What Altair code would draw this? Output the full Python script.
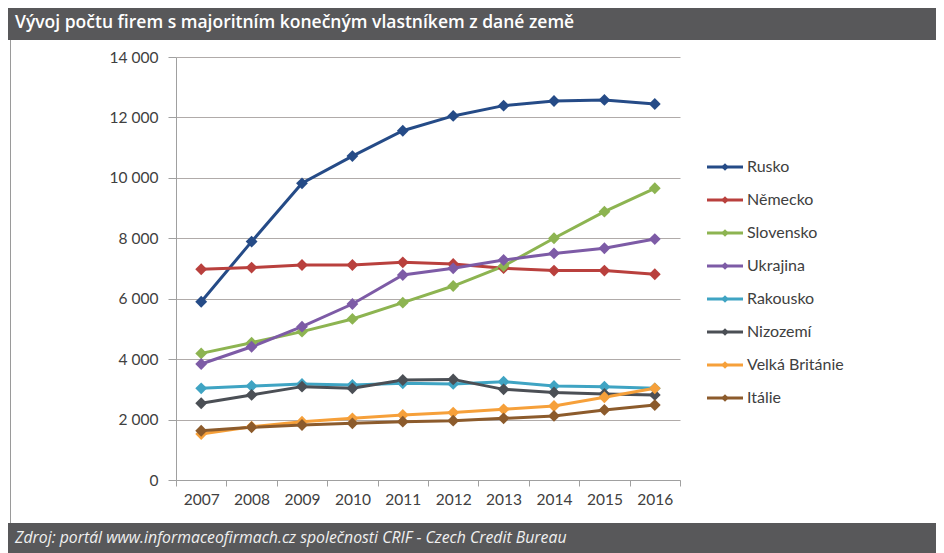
import altair as alt
import pandas as pd

years = [2007, 2008, 2009, 2010, 2011, 2012, 2013, 2014, 2015, 2016]
countries = ["Rusko", "Německo", "Slovensko", "Ukrajina", "Rakousko",
             "Nizozemí", "Velká Británie", "Itálie"]
colors = ["#254b87", "#b9403d", "#8db451", "#7d5ba6", "#3fa4c3",
          "#4b4f55", "#f6a03a", "#8c5b2c"]

rusko = [5900, 7890, 9820, 10720, 11560, 12050, 12390, 12545, 12580, 12445]
nemecko = [6975, 7030, 7115, 7115, 7205, 7150, 7010, 6930, 6930, 6810]
slovensko = [4190, 4545, 4910, 5330, 5870, 6420, 7080, 8000, 8880, 9655]
ukrajina = [3840, 4410, 5075, 5825, 6785, 7005, 7280, 7500, 7670, 7975]
rakousko = [3035, 3110, 3180, 3145, 3200, 3180, 3255, 3110, 3090, 3035]
nizozemi = [2540, 2815, 3090, 3035, 3310, 3330, 3000, 2900, 2845, 2815]
velka_britanie = [1520, 1765, 1930, 2040, 2150, 2230, 2340, 2450, 2740, 3035]
italie = [1630, 1745, 1820, 1875, 1930, 1965, 2040, 2120, 2320, 2480]

y_ticks = [0, 2000, 4000, 6000, 8000, 10000, 12000, 14000]

title_text = "Vývoj počtu firem s majoritním konečným vlastníkem z dané země"
source_text = "Zdroj: portál www.informaceofirmach.cz společnosti CRIF - Czech Credit Bureau"

series = [rusko, nemecko, slovensko, ukrajina, rakousko, nizozemi, velka_britanie, italie]
rows = []
for c, vals in zip(countries, series):
    for y, v in zip(years, vals):
        rows.append({"country": c, "year": y, "value": v})
df = pd.DataFrame(rows)
leg_df = pd.DataFrame({"country": countries})
one = pd.DataFrame({"k": [0]})

W, H = 504, 423
FONT = "Lato"

color = alt.Color("country:N", scale=alt.Scale(domain=countries, range=colors), legend=None)
x_enc = alt.X("year:O", bandPosition=0.5,
              scale=alt.Scale(type="band", paddingInner=0, paddingOuter=0),
              axis=alt.Axis(title=None, labelAngle=0, tickBand="extent", grid=False,
                            labelFontSize=15.5, labelColor="#404040", labelFont=FONT,
                            tickSize=6, labelPadding=6, domainColor="#a0a0a0",
                            tickColor="#a0a0a0"))
y_scale = alt.Scale(domain=[0, 14000], nice=False)

lines = alt.Chart(df).mark_line(strokeWidth=3).encode(
    x=x_enc,
    y=alt.Y("value:Q", scale=y_scale,
            axis=alt.Axis(title=None, values=y_ticks,
                          labelExpr="replace(format(datum.value, ','), ',', ' ')",
                          labelFontSize=15.5, labelColor="#404040", labelFont=FONT,
                          tickSize=8, labelPadding=10, domainColor="#a0a0a0",
                          tickColor="#a0a0a0", gridColor="#b0aba9")),
    color=color,
    detail="country:N",
)
points = alt.Chart(df).mark_point(shape="diamond", filled=True, size=140, opacity=1).encode(
    x=alt.X("year:O", bandPosition=0.5),
    y=alt.Y("value:Q", scale=y_scale),
    color=color,
)
main = alt.layer(lines, points)

leg_y = alt.Y("country:N", sort=countries,
              scale=alt.Scale(type="point", domain=countries, range=[110, 341], padding=0),
              axis=None)
leg_rule = alt.Chart(leg_df).mark_rule(strokeWidth=3).encode(
    x=alt.value(531), x2=alt.value(567), y=leg_y, color=color)
leg_pt = alt.Chart(leg_df).mark_point(shape="diamond", filled=True, size=55, opacity=1).encode(
    x=alt.value(549), y=leg_y, color=color)
leg_txt = alt.Chart(leg_df).mark_text(align="left", baseline="middle", fontSize=16,
                                      font=FONT, color="#404040").encode(
    x=alt.value(571), y=leg_y, text="country:N")
legend = alt.layer(leg_rule, leg_pt, leg_txt)

title_bar = alt.Chart(one).mark_rect(color="#58585a").encode(
    x=alt.value(-168), x2=alt.value(768), y=alt.value(-49), y2=alt.value(-17))
title_lbl = alt.Chart(one).mark_text(align="left", baseline="middle", fontSize=17.5,
                                     fontWeight=600, font="Open Sans", color="white").encode(
    x=alt.value(-161), y=alt.value(-34), text=alt.value(title_text))
border = alt.Chart(one).mark_rule(color="#9a9a9a", strokeWidth=1).encode(
    x=alt.value(-165.5), y=alt.value(-17), y2=alt.value(466))
foot_bar = alt.Chart(one).mark_rect(color="#58585a").encode(
    x=alt.value(-168), x2=alt.value(768), y=alt.value(466), y2=alt.value(500))
foot_lbl = alt.Chart(one).mark_text(align="left", baseline="middle", fontSize=15.8,
                                    fontStyle="italic", font="Open Sans", color="#f0f0f0").encode(
    x=alt.value(-161), y=alt.value(481), text=alt.value(source_text))

chart = alt.layer(title_bar, title_lbl, border, foot_bar, foot_lbl, main, legend).resolve_scale(
    y="independent"
).properties(
    width=W, height=H,
    padding={"left": 168, "top": 49, "right": 256, "bottom": 73},
    autosize=alt.AutoSizeParams(type="none"),
    background="white",
).configure_view(stroke=None)

chart.save("out.html", embed_options={"renderer": "svg", "actions": False})
